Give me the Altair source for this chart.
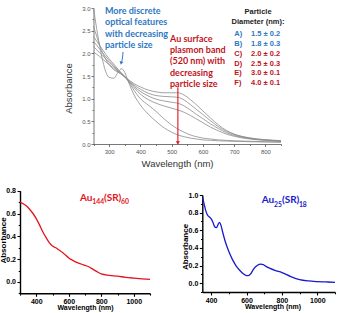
import altair as alt
import pandas as pd

W, H = 344, 313

# ---------------- top panel: size-dependent UV-vis spectra ----------------
top_wl = [250, 260, 270, 280, 290, 300, 315, 330, 340, 350, 360, 380, 400, 425,
          450, 475, 500, 520, 540, 560, 580, 600, 625, 650, 675, 700, 750, 800, 850]
spec_A = [3.00, 2.55, 2.15, 1.82, 1.58, 1.47, 1.45, 1.60, 1.66, 1.58, 1.40, 1.08, 0.86, 0.66,
          0.50, 0.36, 0.26, 0.20, 0.16, 0.13, 0.11, 0.09, 0.08, 0.07, 0.065, 0.06, 0.05, 0.045, 0.04]
spec_B = [2.60, 2.38, 2.18, 2.00, 1.86, 1.75, 1.64, 1.58, 1.55, 1.50, 1.40, 1.18, 1.00, 0.86,
          0.72, 0.56, 0.42, 0.33, 0.26, 0.20, 0.16, 0.13, 0.11, 0.09, 0.08, 0.07, 0.06, 0.05, 0.045]
spec_C = [2.37, 2.27, 2.17, 2.07, 1.97, 1.88, 1.76, 1.64, 1.56, 1.48, 1.40, 1.24, 1.10, 0.98,
          0.90, 0.84, 0.79, 0.75, 0.70, 0.63, 0.55, 0.47, 0.37, 0.29, 0.22, 0.17, 0.11, 0.08, 0.06]
spec_D = [2.26, 2.18, 2.09, 2.00, 1.92, 1.84, 1.73, 1.62, 1.55, 1.48, 1.41, 1.27, 1.16, 1.06,
          0.99, 0.95, 0.92, 0.90, 0.84, 0.75, 0.65, 0.56, 0.44, 0.34, 0.25, 0.19, 0.12, 0.085, 0.065]
spec_E = [2.15, 2.08, 2.01, 1.94, 1.87, 1.80, 1.70, 1.60, 1.54, 1.48, 1.42, 1.30, 1.21, 1.12,
          1.07, 1.05, 1.04, 1.03, 0.97, 0.87, 0.76, 0.65, 0.51, 0.38, 0.28, 0.21, 0.13, 0.09, 0.07]
spec_F = [2.03, 1.98, 1.93, 1.87, 1.81, 1.75, 1.67, 1.58, 1.53, 1.48, 1.43, 1.33, 1.26, 1.19,
          1.15, 1.13, 1.13, 1.13, 1.08, 0.98, 0.86, 0.73, 0.57, 0.42, 0.30, 0.22, 0.135, 0.095, 0.075]

sizes_letters = ["A)", "B)", "C)", "D)", "E)", "F)"]
sizes_text = ["1.5 ± 0.2", "1.8 ± 0.3", "2.0 ± 0.2", "2.5 ± 0.3", "3.0 ± 0.1", "4.0 ± 0.1"]

# ---------------- bottom panels: Au144(SR)60 and Au25(SR)18 ----------------
au144_wl = [300, 320, 340, 360, 380, 400, 420, 440, 460, 480, 500, 520, 540, 560, 580, 600,
            630, 660, 690, 720, 750, 780, 800, 850, 900, 950, 1000, 1050, 1100]
au144_abs = [0.70, 0.685, 0.665, 0.635, 0.60, 0.555, 0.50, 0.44, 0.39, 0.345, 0.315, 0.30,
             0.28, 0.26, 0.235, 0.21, 0.185, 0.165, 0.15, 0.135, 0.11, 0.085, 0.07, 0.058,
             0.05, 0.04, 0.033, 0.027, 0.022]

au25_wl = [352, 360, 370, 380, 390, 400, 410, 420, 430, 440, 447, 455, 465, 480, 500, 520,
           540, 560, 580, 600, 610, 625, 640, 660, 680, 695, 710, 730, 760, 800, 850, 900,
           950, 1000, 1050, 1100]
au25_abs = [0.97, 0.90, 0.82, 0.77, 0.75, 0.73, 0.69, 0.64, 0.63, 0.67, 0.69, 0.66, 0.58,
            0.47, 0.36, 0.27, 0.20, 0.15, 0.11, 0.085, 0.085, 0.11, 0.16, 0.20, 0.215, 0.21,
            0.19, 0.17, 0.145, 0.12, 0.075, 0.04, 0.025, 0.018, 0.014, 0.01]

ARIAL = "Liberation Sans"
CALIBRI = "Lato"
BLUE_TXT = "#2E78C2"
RED_TXT = "#C0141C"

# pixel placement of each panel's plot area inside the 344x313 canvas
TOP_X = dict(domain=[250, 850], range=[93.5, 281], nice=False, zero=False)
TOP_Y = dict(domain=[0, 3], range=[144, 8], nice=False, zero=False)
L_X = dict(domain=[300, 1100], range=[20, 150], nice=False, zero=False)
L_Y = dict(domain=[-0.1, 0.8], range=[293.3, 190.7], nice=False, zero=False)
R_X = dict(domain=[350, 1100], range=[202.3, 335], nice=False, zero=False)
R_Y = dict(domain=[-0.1, 1.0], range=[292, 195], nice=False, zero=False)

layers = []


def enc(xs, ys, xf="wl", yf="abs", xaxis=None, yaxis=None):
    return dict(x=alt.X(f"{xf}:Q", scale=alt.Scale(**xs), axis=xaxis),
                y=alt.Y(f"{yf}:Q", scale=alt.Scale(**ys), axis=yaxis))


def axis_layer(xs, ys, xaxis, yaxis):
    """Invisible mark that only carries a panel's axes."""
    df = pd.DataFrame({"wl": [xs["domain"][0]], "abs": [ys["domain"][0]]})
    layers.append(alt.Chart(df).mark_point(opacity=0).encode(
        **enc(xs, ys, xaxis=xaxis, yaxis=yaxis)))


def minor_ticks(xs, ys, x_axis_y, y_axis_x, xvals, yvals, color, width, size):
    style = dict(labels=False, domain=False, grid=False, title=None, tickColor=color,
                 tickWidth=width, tickSize=size)
    axis_layer(xs, ys,
               alt.Axis(orient="bottom", offset=x_axis_y - H, values=xvals, **style),
               alt.Axis(orient="left", offset=-y_axis_x, values=yvals, **style))


# ====================== bottom panels ======================
bot_style = dict(domainColor="black", domainWidth=1.4, tickColor="black", tickWidth=1.1,
                 labelFont=ARIAL, labelFontSize=7, labelFontWeight="bold", labelColor="black",
                 labelOverlap=False, labelFlush=False, grid=False, titleFont=ARIAL,
                 titleFontWeight="bold", titleColor="black", titleBaseline="middle")


def spectrum(wl, ab, color, xs, ys, x_axis_y, y_axis_x, xtitle_x, ytitle_y, yvals, yminor,
             xminor, title_anchor, parts):
    df = pd.DataFrame({"wl": wl, "abs": ab})
    xaxis = alt.Axis(orient="bottom", offset=x_axis_y - H, values=[400, 600, 800, 1000],
                     format="d", tickSize=3, labelPadding=1.5, title="Wavelength (nm)",
                     titleX=xtitle_x, titleY=14.3, titleFontSize=7, **bot_style)
    yaxis = alt.Axis(orient="left", offset=-y_axis_x, values=yvals, format=".1f",
                     tickSize=3, labelPadding=1.5, title="Absorbance", titleX=-17,
                     titleY=ytitle_y, titleAngle=270, titleFontSize=8, **bot_style)
    axis_layer(xs, ys, xaxis, yaxis)
    minor_ticks(xs, ys, x_axis_y, y_axis_x, xminor, yminor, "black", 1.1, 1.8)
    layers.append(alt.Chart(df).mark_line(color=color, strokeWidth=1.3,
                                          interpolate="monotone").encode(**enc(xs, ys)))
    wl0, a0 = title_anchor
    for txt, dx, dy, fs in parts:
        layers.append(alt.Chart(pd.DataFrame({"wl": [wl0], "abs": [a0]})).mark_text(
            text=txt, align="left", baseline="alphabetic", font=CALIBRI, fontWeight="bold",
            fontSize=fs, dx=dx, dy=dy, color=color).encode(**enc(xs, ys)))


spectrum(au144_wl, au144_abs, "#E3141C", L_X, L_Y, 293.3, 20, 85, 240,
         [0.0, 0.2, 0.4, 0.6, 0.8], [-0.1, 0.1, 0.3, 0.5, 0.7], [300, 500, 700, 900, 1100],
         (669, 0.714),
         [("Au", 0, 0, 10), ("144", 12.3, 3.8, 6.8), ("(SR)", 24.0, 0, 10), ("60", 41.0, 3.8, 6.8)])
spectrum(au25_wl, au25_abs, "#1A1ACB", R_X, R_Y, 292, 202.3, 272.5, 246.5,
         [0.0, 0.2, 0.4, 0.6, 0.8, 1.0], [-0.1, 0.1, 0.3, 0.5, 0.7, 0.9],
         [500, 700, 900, 1100], (685.7, 0.906),
         [("Au", 0, 0, 10), ("25", 12.3, 4.2, 6.8), ("(SR)", 20.2, 0, 10), ("18", 37.2, 4.2, 6.8)])

# ====================== top panel ======================
top_style = dict(domainColor="#555555", domainWidth=0.8, tickColor="#555555", tickWidth=0.8,
                 labelFont=ARIAL, labelFontSize=6, labelColor="#555555", labelOverlap=False,
                 labelFlush=False, grid=False, titleFont=ARIAL, titleFontWeight="normal",
                 titleColor="#333333", titleFontSize=9.5, titleBaseline="middle")

axis_layer(TOP_X, TOP_Y,
           alt.Axis(orient="bottom", offset=144 - H, values=list(range(300, 801, 100)),
                    format="d", tickSize=2.5, labelPadding=2, title="Wavelength (nm)",
                    titleX=177, titleY=19, **top_style),
           alt.Axis(orient="left", offset=-93.5, values=[i * 0.5 for i in range(7)],
                    format=".1f", tickSize=2.5, labelPadding=1, title="Absorbance",
                    titleX=-25.5, titleY=88, titleAngle=270, **top_style))
minor_ticks(TOP_X, TOP_Y, 144, 93.5, [250, 350, 450, 550, 650, 750, 850],
            [0.25, 0.75, 1.25, 1.75, 2.25, 2.75], "#555555", 0.8, 1.5)

for series in [spec_A, spec_B, spec_C, spec_D, spec_E, spec_F]:
    df = pd.DataFrame({"wl": top_wl, "abs": series})
    layers.append(alt.Chart(df).mark_line(color="#8c8c8c", strokeWidth=0.8,
                                          interpolate="monotone").encode(**enc(TOP_X, TOP_Y)))

# red arrow marking the 520 nm plasmon band
layers.append(alt.Chart(pd.DataFrame({"wl": [520], "a1": [1.25], "a2": [0.05]})).mark_rule(
    color="#E3141C", strokeWidth=1.1).encode(
    x=alt.X("wl:Q", scale=alt.Scale(**TOP_X), axis=None),
    y=alt.Y("a1:Q", scale=alt.Scale(**TOP_Y), axis=None), y2="a2:Q"))
layers.append(alt.Chart(pd.DataFrame({"wl": [520], "abs": [0.02]})).mark_point(
    shape="triangle-down", filled=True, size=16, color="#E3141C", opacity=1).encode(
    **enc(TOP_X, TOP_Y)))

# blue arrow pointing at the discrete features
layers.append(alt.Chart(pd.DataFrame({"wl": [344.5, 343.0, 339.0], "abs": [2.03, 1.92, 1.80],
                                      "o": [0, 1, 2]})).mark_line(
    color=BLUE_TXT, strokeWidth=1, interpolate="monotone").encode(
    order="o:Q", **enc(TOP_X, TOP_Y)))
layers.append(alt.Chart(pd.DataFrame({"wl": [338.4], "abs": [1.785]})).mark_point(
    shape="triangle-down", filled=True, size=14, color=BLUE_TXT, opacity=1, angle=12).encode(
    **enc(TOP_X, TOP_Y)))

# annotation text blocks (anchored at the middle of their first line)
layers.append(alt.Chart(pd.DataFrame({"wl": [286.8], "abs": [2.934]})).mark_text(
    text=["More discrete", "optical features", "with decreasing", "particle size"],
    lineHeight=11.3, align="left", baseline="middle", font=CALIBRI, fontWeight="bold",
    fontSize=9, color=BLUE_TXT).encode(**enc(TOP_X, TOP_Y)))
layers.append(alt.Chart(pd.DataFrame({"wl": [494.8], "abs": [2.32]})).mark_text(
    text=["Au surface", "plasmon band", "(520 nm) with", "decreasing", "particle size"],
    lineHeight=11.3, align="left", baseline="middle", font=CALIBRI, fontWeight="bold",
    fontSize=9, color=RED_TXT).encode(**enc(TOP_X, TOP_Y)))
layers.append(alt.Chart(pd.DataFrame({"wl": [776.4], "abs": [2.912]})).mark_text(
    text=["Particle", "Diameter (nm):"], lineHeight=10, align="center", baseline="middle",
    font=ARIAL, fontWeight="bold", fontSize=7.5, color="#222222").encode(**enc(TOP_X, TOP_Y)))

row_abs = [2.426, 2.206, 1.992, 1.771, 1.560, 1.346]
row_col = [BLUE_TXT, BLUE_TXT, RED_TXT, RED_TXT, RED_TXT, RED_TXT]
legend_df = pd.DataFrame({"letter": sizes_letters, "size": sizes_text, "abs": row_abs,
                          "col": row_col, "lx": [700.6] * 6, "sx": [754.0] * 6})
for xf, tf in [("lx", "letter"), ("sx", "size")]:
    layers.append(alt.Chart(legend_df).mark_text(
        align="left", baseline="middle", font=ARIAL, fontWeight="bold", fontSize=7.5).encode(
        text=f"{tf}:N", color=alt.Color("col:N", scale=None), **enc(TOP_X, TOP_Y, xf=xf)))

chart = alt.layer(*layers).resolve_scale(
    x="independent", y="independent", color="independent"
).properties(
    width=W, height=H, padding=0, autosize=alt.AutoSizeParams(type="none"),
    background="white",
).configure_view(strokeWidth=0)

chart.save("out.html", embed_options={"renderer": "svg", "actions": False})
